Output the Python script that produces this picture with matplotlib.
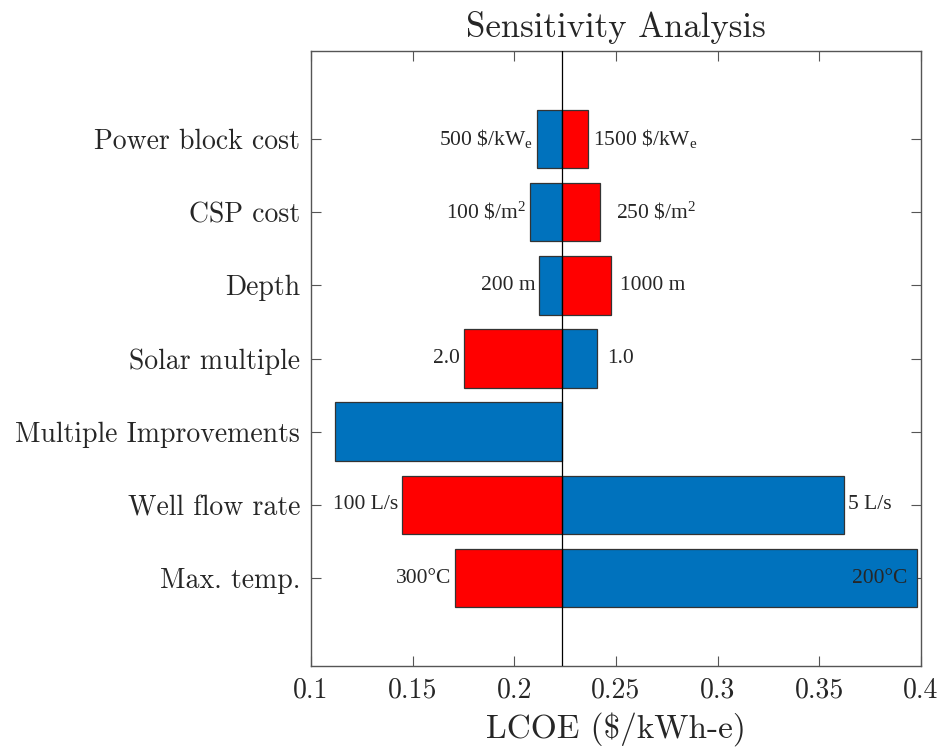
import numpy as np
import matplotlib
matplotlib.use("Agg")
import matplotlib.pyplot as plt

plt.rcParams['mathtext.fontset'] = 'custom'
plt.rcParams['mathtext.rm'] = 'Liberation Serif'
plt.rcParams['mathtext.it'] = 'Liberation Serif:italic'

# ---- data ----
categories = ["Power block cost", "CSP cost", "Depth", "Solar multiple",
              "Multiple Improvements", "Well flow rate", "Max. temp."]
baseline = 0.2235
blue_vals = [0.2113, 0.2079, 0.2123, 0.2409, 0.1118, 0.3620, 0.3980]
red_vals = [0.2364, 0.2419, 0.2473, 0.1754, np.nan, 0.1448, 0.1709]
blue_labels = [r"500 \$/kW$_\mathrm{e}$", r"100 \$/m$^\mathrm{2}$", "200 m", "1.0", "", "5 L/s", "200°C"]
red_labels = [r"1500 \$/kW$_\mathrm{e}$", r"250 \$/m$^\mathrm{2}$", "1000 m", "2.0", "", "100 L/s", "300°C"]
xticks = [0.1, 0.15, 0.2, 0.25, 0.3, 0.35, 0.4]
xtick_labels = ["0.1", "0.15", "0.2", "0.25", "0.3", "0.35", "0.4"]

# label offsets (points) for right-side labels; left-side labels use a fixed gap
right_pad = {1: 12, 2: 7, 3: 7}

blue_c = "#0072BD"
red_c = "#FF0000"
edge_c = "#333333"

fig = plt.figure(figsize=(9.46, 7.5), dpi=100)
ax = fig.add_axes([311/946, 1-666/750, (921-311)/946, (666-51)/750])

y = np.arange(1, len(categories)+1)
bw = np.array(blue_vals) - baseline
rw = np.array(red_vals) - baseline
ax.barh(y, bw, left=baseline, height=0.8, color=blue_c, edgecolor=edge_c, linewidth=0.9, zorder=2)
ax.barh(y, rw, left=baseline, height=0.8, color=red_c, edgecolor=edge_c, linewidth=0.9, zorder=2)

ax.axvline(baseline, color="black", linewidth=0.9, zorder=3)

tfont = dict(family="Liberation Serif", fontsize=15.5, color="#262626")
for i in range(len(categories)):
    for val, lab in ((blue_vals[i], blue_labels[i]), (red_vals[i], red_labels[i])):
        if not lab or np.isnan(val):
            continue
        if val < baseline:
            ax.annotate(lab, (val, y[i]), xytext=(-3, 0), textcoords="offset points",
                        ha="right", va="center", **tfont)
        elif val > 0.39:
            ax.annotate(lab, (val, y[i]), xytext=(-7, 0), textcoords="offset points",
                        ha="right", va="center", **tfont)
        else:
            ax.annotate(lab, (val, y[i]), xytext=(right_pad.get(i, 3), 0), textcoords="offset points",
                        ha="left", va="center", **tfont)

ax.set_xlim(0.1, 0.4)
ax.set_ylim(8.2, -0.2)
ax.set_xticks(xticks)
ax.set_xticklabels(xtick_labels, family="cmr10", fontsize=20, color="#262626")
ax.set_yticks(y)
ax.set_yticklabels(categories, family="cmr10", fontsize=20, color="#262626")
ax.tick_params(direction="in", length=7, width=0.8, color="#555555",
               top=True, right=True, pad=8)
for s in ax.spines.values():
    s.set_color("#555555")
    s.set_linewidth(1.0)

ax.set_xlabel(r"LCOE (\$/kWh-e)", family="cmr10", fontsize=24, color="#262626", labelpad=6)
ax.set_title("Sensitivity Analysis", family="cmr10", fontsize=25, color="#262626", pad=10)

fig.savefig("out.png", dpi=100)
